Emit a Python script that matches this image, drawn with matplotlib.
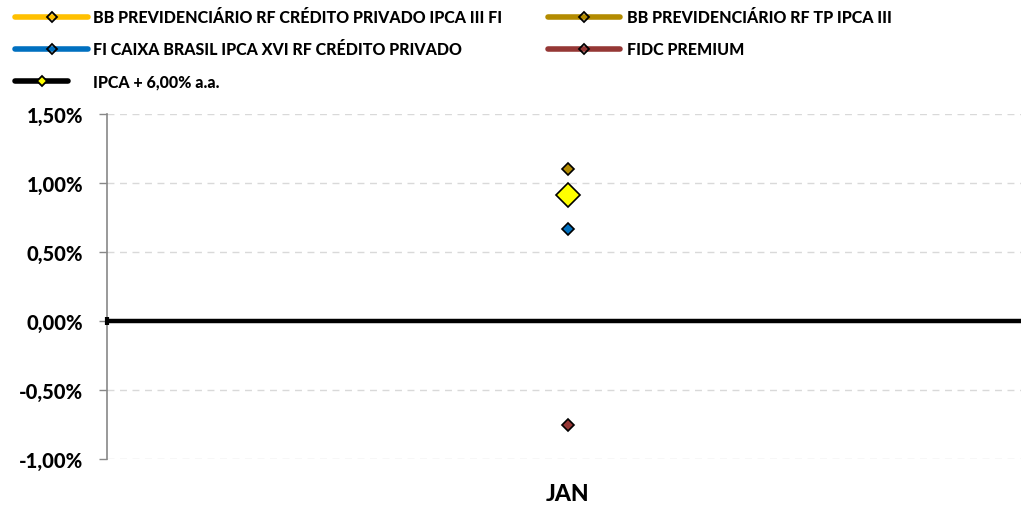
import numpy as np
import matplotlib
matplotlib.use("Agg")
import matplotlib.pyplot as plt
from matplotlib.lines import Line2D

months = ["JAN"]
series = [
    "BB PREVIDENCIÁRIO RF CRÉDITO PRIVADO IPCA III FI",
    "BB PREVIDENCIÁRIO RF TP IPCA III",
    "FI CAIXA BRASIL IPCA XVI RF CRÉDITO PRIVADO",
    "FIDC PREMIUM",
    "IPCA + 6,00% a.a.",
]
bb_cred = [np.nan]
bb_tp = [1.10]
caixa = [0.67]
fidc = [-0.75]
ipca6 = [0.91]
values = [bb_cred, bb_tp, caixa, fidc, ipca6]
yticks = [-1.0, -0.5, 0.0, 0.5, 1.0, 1.5]

colors = ["#FFC000", "#B38B00", "#0070C0", "#953735", "#000000"]
mfc = ["#FFC000", "#B38B00", "#0070C0", "#953735", "#FFFF00"]

plt.rcParams["font.family"] = ["Lato", "DejaVu Sans"]
WT = 900

W, H = 1021, 506
fig = plt.figure(figsize=(W / 100, H / 100), dpi=100)
ax = fig.add_axes([107 / W, 1 - 460 / H, (W - 107) / W, (460 - 115) / H])

x = np.arange(len(months))
for i, (name, v) in enumerate(zip(series, values)):
    big = i == 4
    ax.plot(x, v, ls="none", marker="D", ms=12.5 if big else 6.2,
            mfc=mfc[i], mec="black", mew=1.2, zorder=5 if big else 4)

# thick zero line plus the little tick at its left end
ax.axhline(0, color="black", lw=3.2, zorder=3)
ax.plot([-0.504], [0], marker="|", ms=6, mew=3, color="black", clip_on=False, zorder=3)

ax.set_xlim(-0.504, 0.496)
ax.set_ylim(-1.0, 1.5)
ax.set_yticks(yticks)
ax.set_yticklabels([f"{t:.2f}%".replace(".", ",") for t in yticks], fontsize=14.5, fontweight=WT)
ax.yaxis.grid(True, color="#D9D9D9", ls=(0, (5, 4)), lw=1)
ax.set_axisbelow(True)
ax.set_xticks(x)
ax.set_xticklabels(months, fontsize=16.5, fontweight=WT)
ax.tick_params(axis="x", length=0, pad=17)
ax.tick_params(axis="y", length=6, color="#888888", width=1, pad=11)
for s in ["top", "right", "bottom"]:
    ax.spines[s].set_visible(False)
ax.spines["left"].set_color("#888888")
ax.spines["left"].set_linewidth(1.2)

# legend, drawn by hand in figure pixels
pos = [(15, 88, 18), (548, 620, 18), (15, 88, 50), (548, 620, 50), (15, 68, 82)]
for i, (name, (x0, x1, yy)) in enumerate(zip(series, pos)):
    fy = 1 - yy / H
    fig.add_artist(Line2D([x0 / W, x1 / W], [fy, fy], color=colors[i], lw=4,
                          solid_capstyle="round", transform=fig.transFigure))
    fig.add_artist(Line2D([(x0 + x1) / 2 / W], [fy], marker="D", ms=5, mfc=mfc[i] if i == 4 else "none",
                          mec="black", mew=1.3, transform=fig.transFigure))
    fig.text((93 if x0 < 100 else 627) / W, fy, name, fontsize=11.5, fontweight=WT,
             va="center", ha="left")

fig.savefig("out.png", dpi=100)
